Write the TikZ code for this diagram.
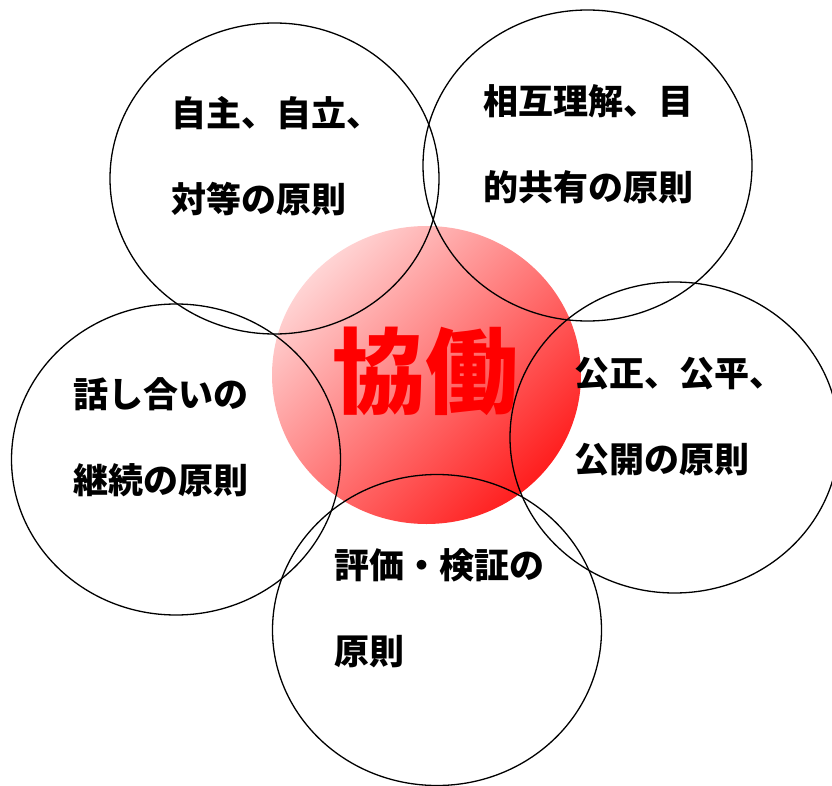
\documentclass[tikz,border=0pt]{standalone}
\usepackage{fontspec}
\newfontfamily\cjk{Noto Sans CJK JP}
\usetikzlibrary{shapes.geometric}
\definecolor{pinklight}{RGB}{255,212,212}
\definecolor{reddark}{RGB}{255,30,30}
\definecolor{kyored}{RGB}{255,0,0}
\tikzset{
  ring/.style={ellipse, draw=black, line width=1.3pt, inner sep=0pt, minimum width=329pt, minimum height=311pt},
  lbl/.style={anchor=west, align=left, inner sep=0pt, font=\cjk\bfseries\fontsize{35}{86}\selectfont},
}
\begin{document}
\begin{tikzpicture}[x=1pt,y=-1pt]
\useasboundingbox (0,0) rectangle (832,786);
\node[ellipse, inner sep=0pt, minimum width=309pt, minimum height=298pt,
      left color=pinklight, right color=reddark, shading angle=45] (core) at (426.5,375) {};
\node[ring] (tl) at (274.5,178.5) {};
\node[ring] (tr) at (587.5,165.5) {};
\node[ring] (lf) at (176,459.5) {};
\node[ring] (rt) at (674.5,437.5) {};
\node[ring] (bt) at (437,630) {};
\node[inner sep=0pt, text=kyored, font=\cjk\bfseries\fontsize{93}{93}\selectfont] (kyodo) at (425,371) {協働};
\node[lbl] (ttl) at (171,156) {自主、自立、\\対等の原則};
\node[lbl] (ttr) at (483,144) {相互理解、目\\的共有の原則};
\node[lbl] (tlf) at (73,437.5) {話し合いの\\継続の原則};
\node[lbl] (trt) at (574,416.5) {公正、公平、\\公開の原則};
\node[lbl] (tbt) at (334,608.5) {評価・検証の\\原則};
\end{tikzpicture}
\end{document}
